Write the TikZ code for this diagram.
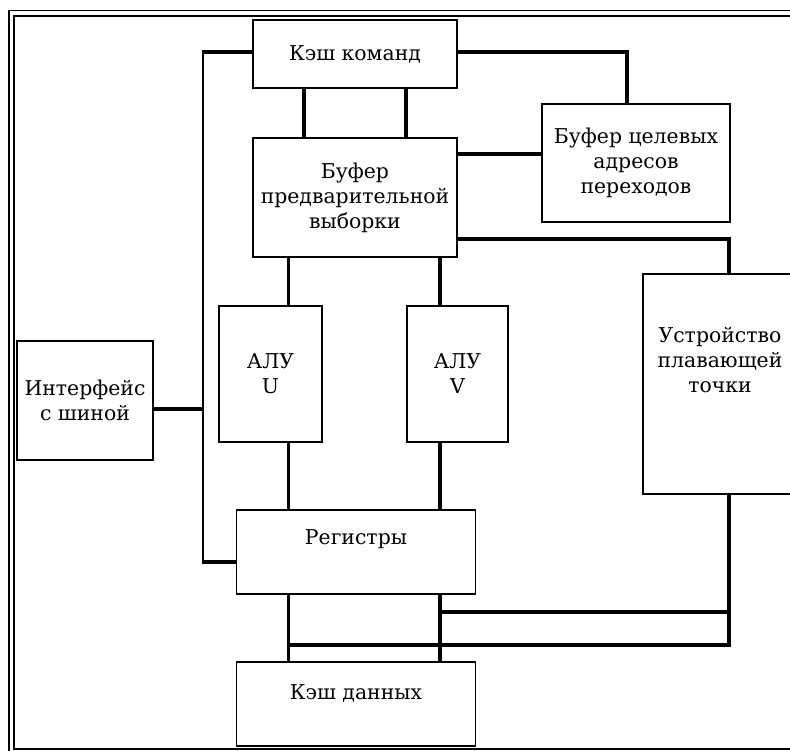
\documentclass[tikz,border=0pt]{standalone}
\usepackage{fontspec}
\setmainfont{DejaVu Serif}
\usepackage{tikz}

\begin{document}
\begin{tikzpicture}[x=1pt,y=-1pt,
    txt/.style={font=\fontsize{20.4}{25}\selectfont,align=center},
    blk/.style={draw,line width=1.7pt,inner sep=0pt,txt},
    link/.style={line width=3.8pt},
    bus/.style={line width=1.7pt}]
    \useasboundingbox (0,0) rectangle (790,751);
    \draw[line width=1.8pt] (9,10.5) rectangle (810,753.5);
    \draw[line width=2.4pt] (14,16) rectangle (805,748.8);
    \node[blk,minimum width=204,minimum height=68] (kk) at (355,54) {Кэш команд};
    \node[blk,minimum width=204,minimum height=119] (buf) at (355,197.5) {Буфер\\предварительной\\выборки};
    \node[blk,minimum width=188,minimum height=118] (btb) at (636,163) {Буфер целевых\\адресов\\переходов};
    \node[blk,minimum width=154,minimum height=220,label={[txt,yshift=24]center:Устройство\\плавающей\\точки}] (fpu) at (720,384) {};
    \node[blk,minimum width=103,minimum height=136] (aluu) at (270.5,374) {АЛУ\\U};
    \node[blk,minimum width=101,minimum height=136] (aluv) at (457.5,374) {АЛУ\\V};
    \node[blk,minimum width=136,minimum height=119] (bi) at (85,400.5) {Интерфейс\\с шиной};
    \node[blk,minimum width=239,minimum height=84,label={[txt,yshift=13]center:Регистры}] (reg) at (356,552) {};
    \node[blk,minimum width=239,minimum height=84,label={[txt,yshift=11]center:Кэш данных}] (kd) at (356,704) {};
    \coordinate (bustop) at (203,52);
    \coordinate (busmid) at (203,409);
    \coordinate (busbot) at (203,562);
    \coordinate (kb) at (627,52);
    \coordinate (bb) at (542,154);
    \coordinate (bf) at (729,239);
    \coordinate (xu) at (288.5,0);
    \coordinate (xv) at (440,0);
    \coordinate (fa) at (729,612);
    \coordinate (fb) at (729,645);
    \draw[bus] (bustop) -- (busbot);
    \draw[link] (kk.west |- bustop) -- ([xshift=-0.8]bustop);
    \draw[link] (bi.east |- busmid) -- ([xshift=-0.8]busmid);
    \draw[link] ([xshift=-0.8]busbot) -- (reg.west |- busbot);
    \draw[link] ([xshift=-51]kk.south) -- ([xshift=-51]buf.north);
    \draw[link] ([xshift=51]kk.south) -- ([xshift=51]buf.north);
    \draw[link] (kk.east |- kb) -- (kb) -- (kb |- btb.north);
    \draw[link] (buf.east |- bb) -- (btb.west |- bb);
    \draw[link] (buf.east |- bf) -- (bf) -- (bf |- fpu.north);
    \draw[link] (buf.south -| xu) -- (aluu.north -| xu);
    \draw[link] (buf.south -| xv) -- (aluv.north -| xv);
    \draw[link] (aluu.south -| xu) -- (reg.north -| xu);
    \draw[link] (aluv.south -| xv) -- (reg.north -| xv);
    \draw[link] (reg.south -| xu) -- (kd.north -| xu);
    \draw[link] (reg.south -| xv) -- (kd.north -| xv);
    \draw[link] (fpu.south -| fb) -- (fb) -- (fb -| xu);
    \draw[link] (fa) -- (fa -| xv);
\end{tikzpicture}
\end{document}
